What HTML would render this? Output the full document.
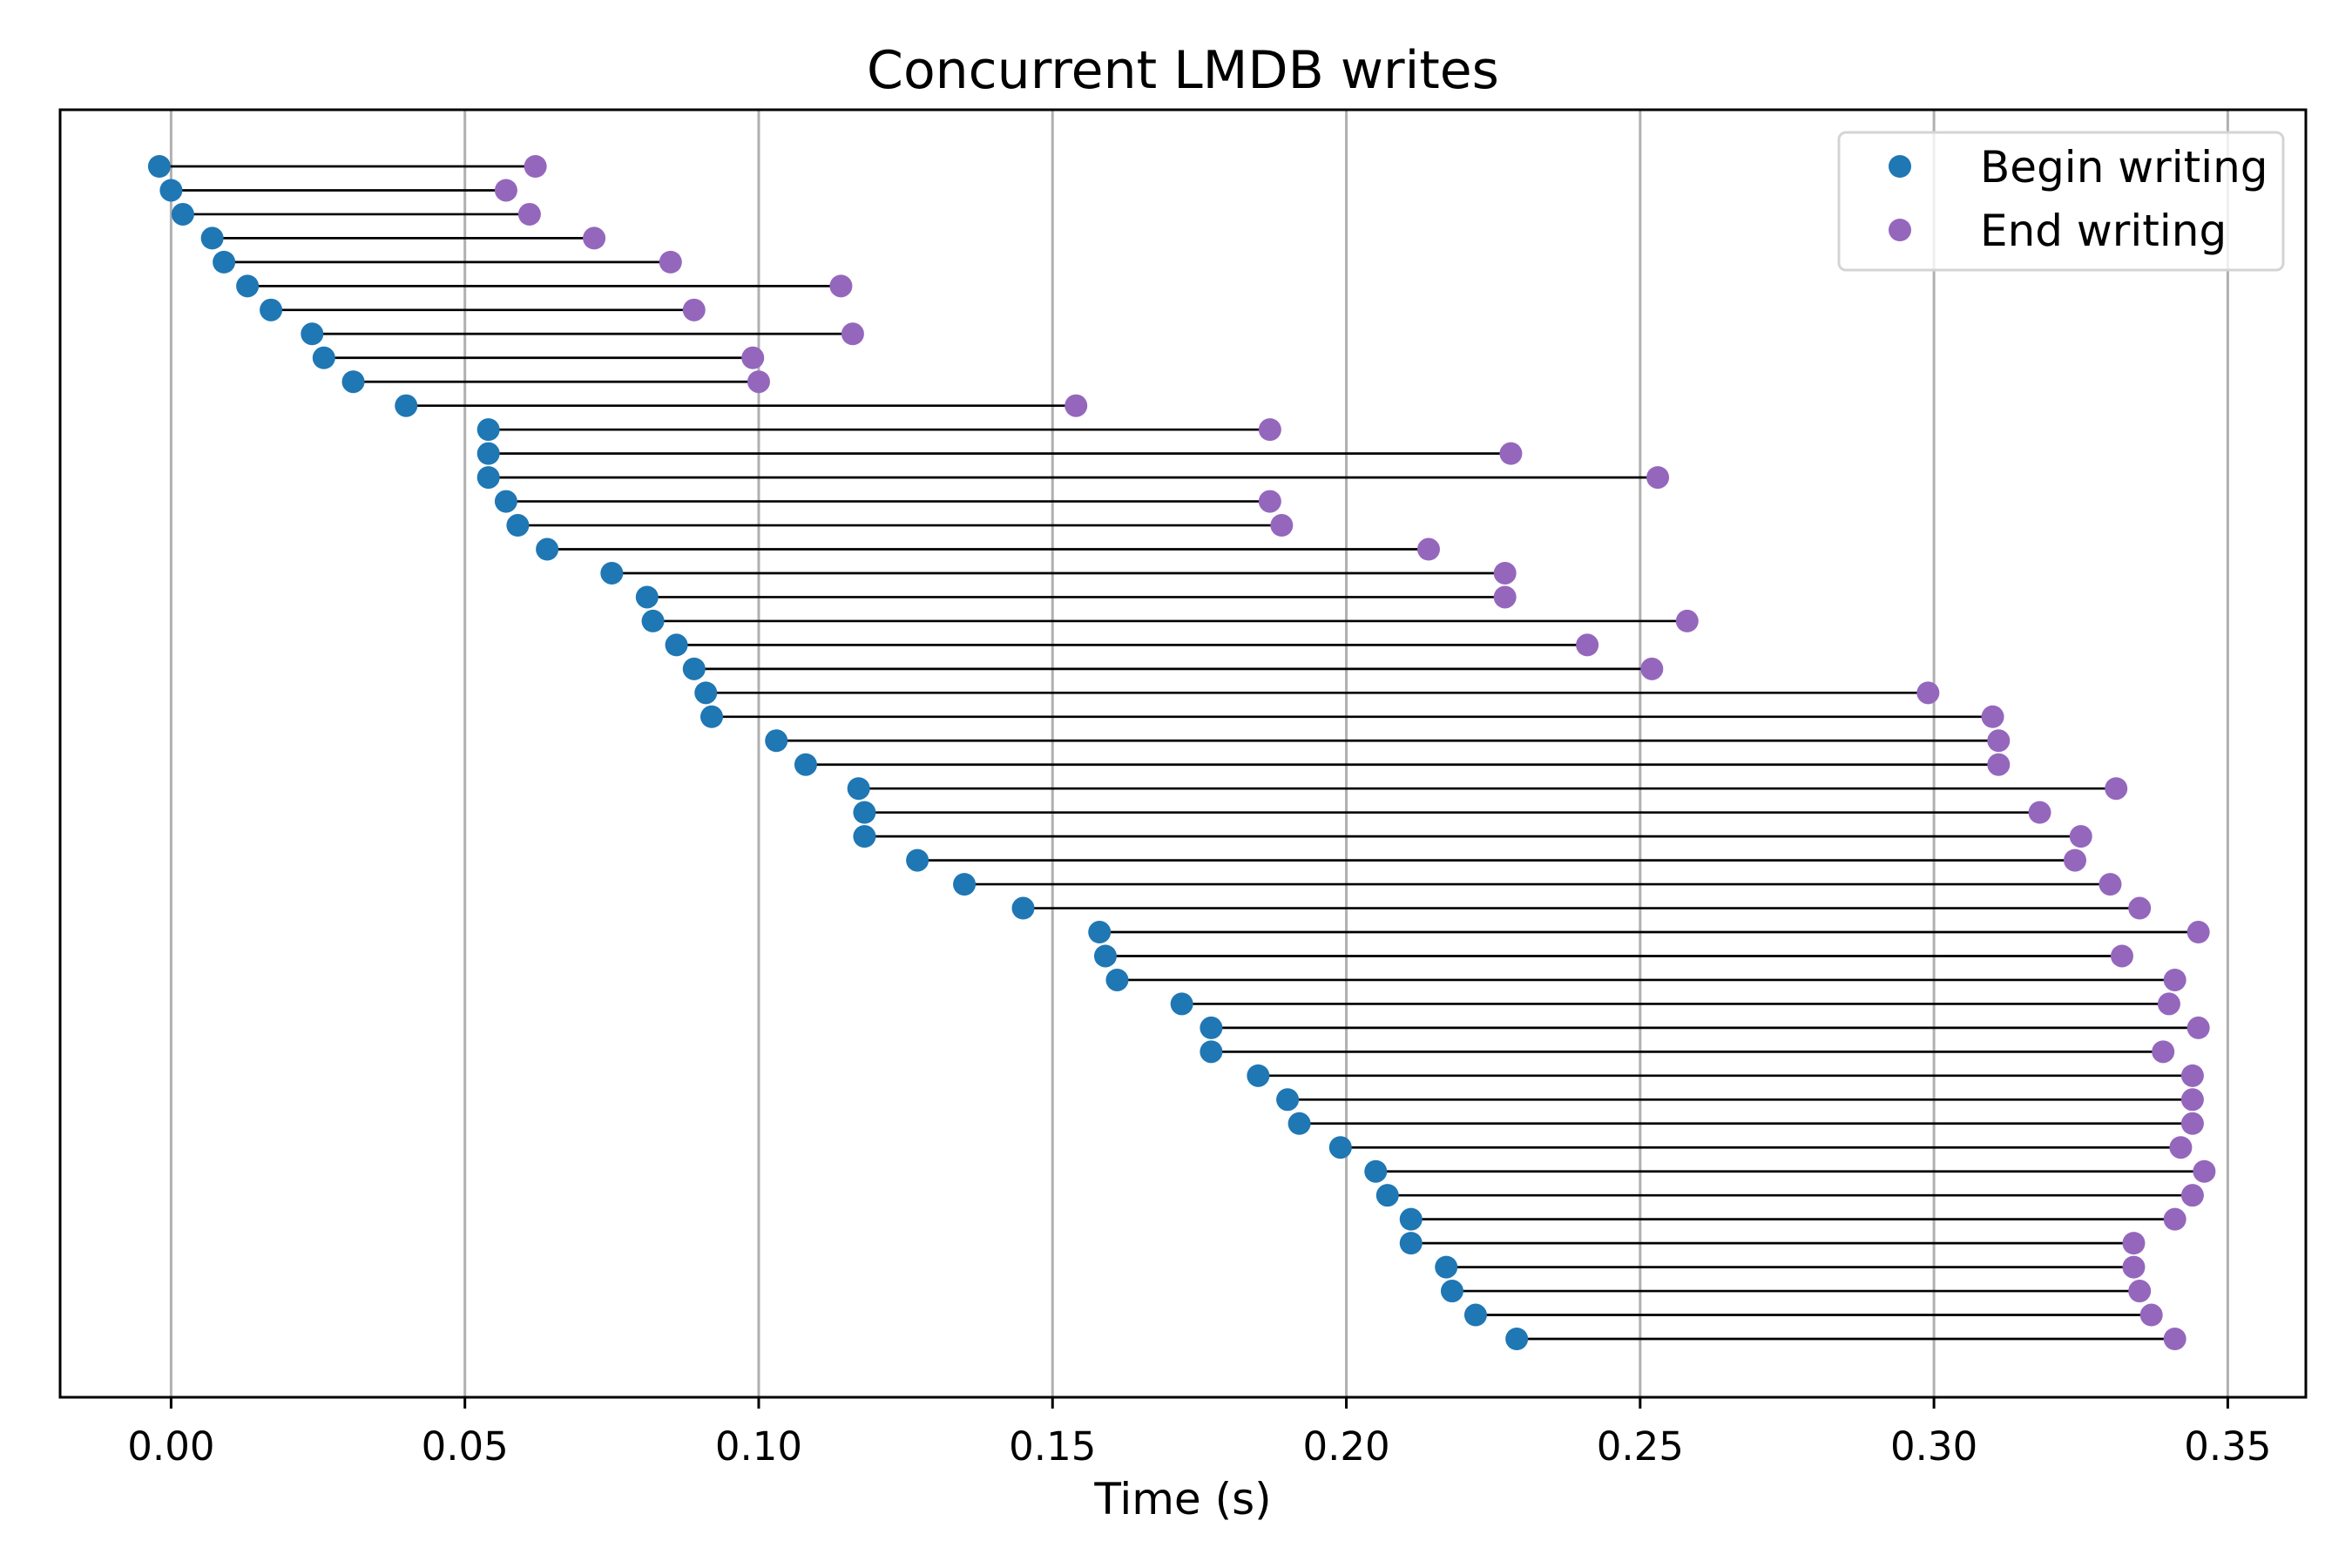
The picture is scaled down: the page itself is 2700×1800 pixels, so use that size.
<!DOCTYPE html>
<html><head><meta charset="utf-8"><style>
html,body{margin:0;padding:0;background:#fff;}
svg{display:block;font-family:"DejaVu Sans","Liberation Sans",sans-serif;}
</style></head><body>
<svg id="s" width="2700" height="1800" viewBox="0 0 2700 1800" xmlns="http://www.w3.org/2000/svg">
<rect width="2700" height="1800" fill="#fff"/>
<g id="grid"></g>
<g id="data"></g>
<rect x="69" y="126" width="2578" height="1478" fill="none" stroke="#000" stroke-width="3"/>
<g id="ticks"></g>
<text x="1358" y="101" font-size="60" text-anchor="middle">Concurrent LMDB writes</text>
<text x="1358" y="1738" font-size="50" text-anchor="middle">Time (s)</text>
<rect x="2111" y="152" width="510" height="158" rx="8" fill="#fff" fill-opacity="0.8" stroke="#d4d4d4" stroke-width="3"/>
<circle cx="2181" cy="191" r="13" fill="#1f77b4"/>
<circle cx="2181" cy="264" r="13" fill="#9467bd"/>
<text x="2273" y="209" font-size="50">Begin writing</text>
<text x="2273" y="282" font-size="50">End writing</text>
</svg>
<script>
var d=[[-0.002,0.062],[0.000,0.057],[0.002,0.061],[0.007,0.072],[0.009,0.085],[0.013,0.114],[0.017,0.089],[0.024,0.116],[0.026,0.099],[0.031,0.100],[0.040,0.154],[0.054,0.187],[0.054,0.228],[0.054,0.253],[0.057,0.187],[0.059,0.189],[0.064,0.214],[0.075,0.227],[0.081,0.227],[0.082,0.258],[0.086,0.241],[0.089,0.252],[0.091,0.299],[0.092,0.310],[0.103,0.311],[0.108,0.311],[0.117,0.331],[0.118,0.318],[0.118,0.325],[0.127,0.324],[0.135,0.330],[0.145,0.335],[0.158,0.345],[0.159,0.332],[0.161,0.341],[0.172,0.340],[0.177,0.345],[0.177,0.339],[0.185,0.344],[0.190,0.344],[0.192,0.344],[0.199,0.342],[0.205,0.346],[0.207,0.344],[0.211,0.341],[0.211,0.334],[0.217,0.334],[0.218,0.335],[0.222,0.337],[0.229,0.341]];
function X(v){return 196.4+v*6745.7;}
var g='',t='',dd='',i;
for(i=0;i<=7;i++){var x=X(i*0.05);g+='<line x1="'+x+'" y1="126" x2="'+x+'" y2="1604" stroke="#b0b0b0" stroke-width="3"/>';
t+='<line x1="'+x+'" y1="1604" x2="'+x+'" y2="1617" stroke="#000" stroke-width="3"/><text x="'+x+'" y="1676" font-size="45" text-anchor="middle">'+(i*0.05).toFixed(2)+'</text>';}
var sp=(1537-191)/49;
for(i=0;i<d.length;i++){var y=191+i*sp;var a=X(d[i][0]),b=X(d[i][1]);
dd+='<line x1="'+a+'" y1="'+y+'" x2="'+b+'" y2="'+y+'" stroke="#000" stroke-width="2.7"/>';}
for(i=0;i<d.length;i++){var y=191+i*sp;dd+='<circle cx="'+X(d[i][0])+'" cy="'+y+'" r="13" fill="#1f77b4"/>';}
for(i=0;i<d.length;i++){var y=191+i*sp;dd+='<circle cx="'+X(d[i][1])+'" cy="'+y+'" r="13" fill="#9467bd"/>';}
document.getElementById('grid').innerHTML=g;document.getElementById('ticks').innerHTML=t;document.getElementById('data').innerHTML=dd;
</script>
</body></html>
